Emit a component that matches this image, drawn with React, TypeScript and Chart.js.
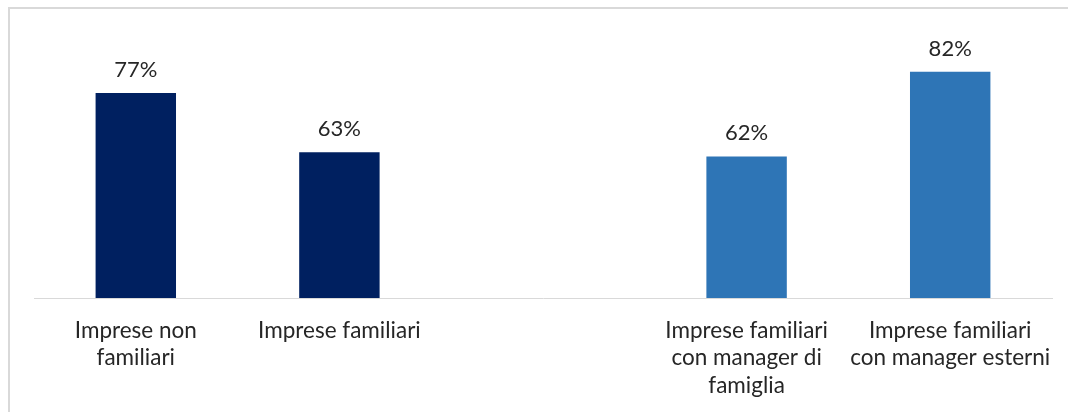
import React, { useEffect, useRef } from "react";
import { Chart, registerables } from "chart.js";

Chart.register(...registerables);

const categories: (string | string[])[] = [
  ["Imprese non", "familiari"],
  "Imprese familiari",
  "",
  ["Imprese familiari", "con manager di", "famiglia"],
  ["Imprese familiari", "con manager esterni"],
];
const values: (number | null)[] = [77, 63, null, 62, 82];
const barColors = ["#002060", "#002060", "#002060", "#2E75B6", "#2E75B6"];
const valueLabels = ["77%", "63%", "", "62%", "82%"];

const FONT = "Lato, 'Open Sans', sans-serif";

const labelPlugin = {
  id: "valueLabels",
  afterDatasetsDraw(chart: any) {
    const ctx = chart.ctx;
    const meta = chart.getDatasetMeta(0);
    ctx.save();
    ctx.font = `22px ${FONT}`;
    ctx.fillStyle = "#262626";
    ctx.textAlign = "center";
    ctx.textBaseline = "alphabetic";
    meta.data.forEach((bar: any, i: number) => {
      if (values[i] == null) return;
      ctx.fillText(valueLabels[i], bar.x, bar.y - 16);
    });
    ctx.restore();
  },
};

export default function App() {
  const ref = useRef<HTMLCanvasElement>(null);
  useEffect(() => {
    if (!ref.current) return;
    const chart = new Chart(ref.current, {
      type: "bar",
      data: {
        labels: categories,
        datasets: [
          {
            data: values,
            backgroundColor: barColors,
            barPercentage: 1,
            categoryPercentage: 0.395,
          },
        ],
      },
      options: {
        responsive: false,
        animation: false,
        devicePixelRatio: 1,
        layout: { padding: { left: 24, right: 16, top: 0, bottom: 0 } },
        plugins: {
          legend: { display: false },
          tooltip: { enabled: false },
          title: { display: false },
        },
        scales: {
          y: {
            display: false,
            min: 28.6,
            max: 96.8,
          },
          x: {
            grid: { display: false },
            border: { display: true, color: "#d9d9d9", width: 1 },
            ticks: {
              color: "#262626",
              font: { family: FONT, size: 22.5, lineHeight: 1.22 },
              padding: 11,
              maxRotation: 0,
              autoSkip: false,
            },
            afterFit: (scale: any) => {
              scale.height = 114;
            },
          },
        },
      },
      plugins: [labelPlugin],
    });
    return () => chart.destroy();
  }, []);
  return (
    <div
      style={{
        position: "fixed",
        left: 8,
        top: 7,
        width: 1060,
        height: 405,
        borderTop: "2px solid #d9d9d9",
        borderLeft: "2px solid #d9d9d9",
        boxSizing: "border-box",
        overflow: "hidden",
      }}
    >
      <canvas ref={ref} width={1058} height={403} style={{ display: "block" }} />
    </div>
  );
}
